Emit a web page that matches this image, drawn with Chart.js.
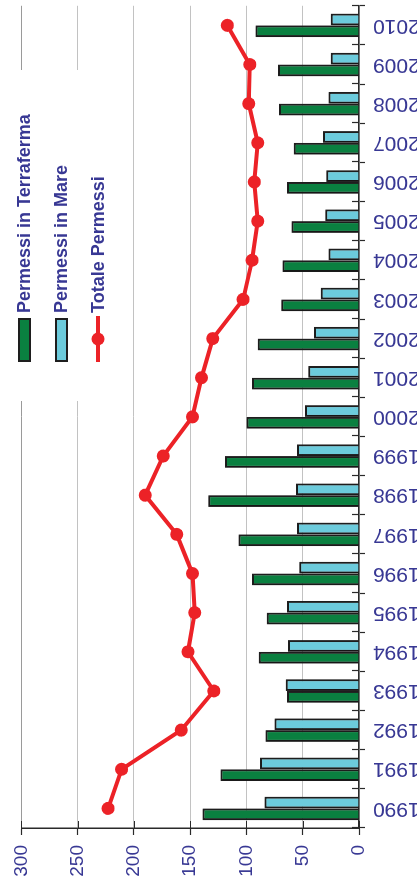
<!DOCTYPE html>
<html>
<head>
<meta charset="utf-8">
<title>Permessi</title>
<script src="https://cdn.jsdelivr.net/npm/chart.js@4/dist/chart.umd.min.js"></script>
<style>
  html, body { margin: 0; padding: 0; background: #fff; }
  #frame { position: relative; width: 417px; height: 892px; overflow: hidden; }
  #turn { position: absolute; left: 0; top: 0; width: 900px; height: 417px;
          transform-origin: 0 0; transform: translate(0, 892px) rotate(-90deg); }
  canvas { display: block; }
</style>
</head>
<body>
<div id="frame">
  <div id="turn"><canvas id="c" width="900" height="417"></canvas></div>
</div>
<script>
const years = ['1990','1991','1992','1993','1994','1995','1996','1997','1998','1999','2000',
               '2001','2002','2003','2004','2005','2006','2007','2008','2009','2010'];
const terraferma = [139, 123, 83, 64, 89, 82, 95, 107, 134, 119, 100, 95, 90, 69, 68, 60, 64, 58, 71, 72, 92];
const mare       = [84, 88, 75, 65, 63, 64, 53, 55, 56, 55, 48, 45, 40, 34, 27, 30, 29, 32, 27, 25, 25];
const totale     = [223, 211, 158, 129, 152, 146, 148, 162, 190, 174, 148, 140, 130, 103, 95, 90, 93, 90, 98, 97, 117];
const valueTicks = [0, 50, 100, 150, 200, 250, 300];
const seriesNames = ['Permessi in Terraferma', 'Permessi in Mare', 'Totale Permessi'];

const GREEN = '#0a8040';
const CYAN = '#6ccbdc';
const RED = '#ec2227';
const INK = '#383894';
const AXIS = '#2a2a2a';
const FONT = '"Liberation Sans", Arial, sans-serif';

// soft shadow under the bars
const barShadow = {
  id: 'barShadow',
  beforeDatasetDraw(chart, args) {
    if (chart.data.datasets[args.index].type !== 'bar') return;
    const ctx = chart.ctx;
    ctx.save();
    ctx.shadowColor = 'rgba(0,0,0,0.35)';
    ctx.shadowBlur = 2;
    ctx.shadowOffsetX = -1;
    ctx.shadowOffsetY = 0;
  },
  afterDatasetDraw(chart, args) {
    if (chart.data.datasets[args.index].type !== 'bar') return;
    chart.ctx.restore();
  }
};

// tick marks that cross the axes into the plot area
const innerTicks = {
  id: 'innerTicks',
  afterDatasetsDraw(chart) {
    const ctx = chart.ctx;
    const xs = chart.scales.x, ys = chart.scales.y;
    ctx.save();
    ctx.strokeStyle = AXIS;
    ctx.lineWidth = 1.2;
    ctx.beginPath();
    ys.ticks.forEach((t, i) => {
      const py = Math.round(ys.getPixelForTick(i)) + 0.5;
      ctx.moveTo(xs.left, py);
      ctx.lineTo(xs.left + 7, py);
    });
    const n = years.length;
    const band = (xs.right - xs.left) / n;
    for (let i = 0; i <= n; i++) {
      const px = Math.round(xs.left + i * band) + 0.5;
      ctx.moveTo(px, ys.bottom);
      ctx.lineTo(px, ys.bottom - 7);
    }
    ctx.stroke();
    ctx.restore();
  }
};

// legend block sitting over the upper grid lines
const boxLegend = {
  id: 'boxLegend',
  afterDraw(chart) {
    const ctx = chart.ctx;
    const ds = chart.data.datasets;
    ctx.save();
    ctx.fillStyle = '#fff';
    ctx.fillRect(491, 0, 331, 118);
    const x0 = 530, rows = [24.5, 61.5, 98];
    ctx.font = 'bold 18px ' + FONT;
    ctx.textBaseline = 'middle';
    ctx.textAlign = 'left';
    ds.forEach((d, i) => {
      const cy = rows[i];
      if (d.type === 'bar') {
        ctx.fillStyle = d.backgroundColor;
        ctx.fillRect(x0, cy - 6.5, 44, 13);
        ctx.strokeStyle = d.borderColor;
        ctx.lineWidth = 2;
        ctx.strokeRect(x0 + 1, cy - 5.5, 42, 11);
      } else {
        ctx.strokeStyle = d.borderColor;
        ctx.lineWidth = 4;
        ctx.beginPath();
        ctx.moveTo(x0, cy);
        ctx.lineTo(x0 + 46, cy);
        ctx.stroke();
        ctx.fillStyle = d.pointBackgroundColor;
        ctx.beginPath();
        ctx.arc(x0 + 23, cy, 6.5, 0, Math.PI * 2);
        ctx.fill();
      }
      ctx.fillStyle = INK;
      ctx.fillText(d.label, 579, cy + 1);
    });
    ctx.restore();
  }
};

new Chart(document.getElementById('c'), {
  data: {
    labels: years,
    datasets: [
      { type: 'bar', label: seriesNames[0], data: terraferma, order: 1,
        backgroundColor: GREEN, borderColor: '#1e1e1e', borderWidth: 2,
        categoryPercentage: 0.6, barPercentage: 1.0 },
      { type: 'bar', label: seriesNames[1], data: mare, order: 1,
        backgroundColor: CYAN, borderColor: '#1e1e1e', borderWidth: 2,
        categoryPercentage: 0.6, barPercentage: 1.0 },
      { type: 'line', label: seriesNames[2], data: totale, order: 0,
        borderColor: RED, borderWidth: 4, tension: 0,
        pointRadius: 6.5, pointHoverRadius: 6.5, pointBorderWidth: 0,
        pointBackgroundColor: RED }
    ]
  },
  options: {
    responsive: false,
    animation: false,
    devicePixelRatio: 1,
    layout: { padding: { top: 21, right: 4, left: 0, bottom: 0 } },
    plugins: { legend: { display: false }, tooltip: { enabled: false } },
    scales: {
      x: {
        type: 'category',
        offset: true,
        afterFit(s) { s.height = 58; },
        grid: { drawOnChartArea: false, offset: true, tickLength: 6, tickColor: AXIS, tickWidth: 1.2 },
        border: { color: AXIS, width: 1.5 },
        ticks: { minRotation: 90, maxRotation: 90, autoSkip: false, padding: 8,
                 color: INK, font: { family: FONT, size: 21 } }
      },
      y: {
        min: 0, max: 300,
        afterFit(s) { s.width = 64; },
        afterBuildTicks(s) { s.ticks = valueTicks.map(v => ({ value: v })); },
        grid: { color: c => (c.tick && c.tick.value === 300) ? '#9a9a9a' : '#c2c2c2',
                lineWidth: 1, tickLength: 7, tickColor: AXIS, tickWidth: 1.2 },
        border: { color: AXIS, width: 1.5 },
        ticks: { padding: 10, color: INK, font: { family: FONT, size: 19 } }
      }
    }
  },
  plugins: [barShadow, innerTicks, boxLegend]
});
</script>
</body>
</html>
